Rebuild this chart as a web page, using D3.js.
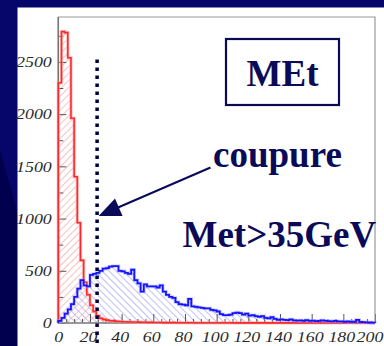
<!DOCTYPE html>
<html><head><meta charset="utf-8">
<script src="https://cdn.jsdelivr.net/npm/d3@7"></script>
<style>html,body{margin:0;padding:0;background:#06066a;overflow:hidden}</style>
</head><body><svg id="c" width="384" height="346"></svg>
<script>
const binWidth = 2;
const redCounts = [
 2300,2790,2780,2540,1960,1400,960,600,390,270,
 170,110,70,45,35,28,22,20,16,14,
 12,12,10,9,9,8,7,7,6,6,
 5,5,5,4,4,4,4,3,3,3,
 3,3,3,2,2,2,2,2,2,2,
 2,2,2,2,2,1,1,1,1,1,
 1,1,1,1,1,1,1,1,1,1,
 1,1,1,1,1,1,0,1,0,1,
 0,0,1,0,0,0,0,0,0,0,
 0,0,0,0,0,0,0,0,0,0];
const blueCounts = [
 20,50,90,130,180,250,330,410,360,350,
 460,470,480,500,520,525,540,545,545,500,
 495,480,470,510,410,380,300,370,350,350,
 350,340,360,300,270,250,240,200,180,175,
 170,230,160,155,150,145,140,140,125,120,
 110,85,75,75,80,95,100,95,80,90,
 70,75,65,60,65,50,45,55,40,30,
 35,30,28,35,25,22,25,20,28,20,
 22,18,20,25,20,18,15,20,15,15,
 12,15,10,12,30,10,8,6,5,3];
const xTicks = [0,20,40,60,80,100,120,140,160,180,200];
const yTicks = [0,500,1000,1500,2000,2500];
const cutValue = 24.5;
const labelTitle = "MEt";
const labelArrow = "coupure";
const labelCut = "Met>35GeV";

const svg = d3.select("#c");
const defs = svg.append("defs");
svg.append("rect").attr("width",384).attr("height",346).attr("fill","#06066a");
svg.append("path").attr("d","M0,150 L17.5,213 L17.5,346 L0,346Z").attr("fill","#00004e");
svg.append("rect").attr("x",17.5).attr("y",7.5).attr("width",370).attr("height",345).attr("fill","#fff");

function hatch(id,color,angle){
  const p = defs.append("pattern").attr("id",id).attr("width",5).attr("height",5)
    .attr("patternUnits","userSpaceOnUse").attr("patternTransform",`rotate(${angle})`);
  p.append("line").attr("x1",0).attr("y1",0).attr("x2",0).attr("y2",5)
    .attr("stroke",color).attr("stroke-width",1.3);
}
hatch("hr","#f4a0a0",45);
hatch("hb","#a0a0f0",-45);

const x = d3.scaleLinear().domain([0,200]).range([58.3,375]);
const y = d3.scaleLinear().domain([0,2930]).range([323,17]);

function pts(arr){
  const p = [[0,0]];
  arr.forEach((v,i)=>p.push([i*binWidth,v]));
  p.push([arr.length*binWidth, arr[arr.length-1]]);
  p.push([arr.length*binWidth, 0]);
  return p;
}
const line = d3.line().x(d=>x(d[0])).y(d=>y(d[1])).curve(d3.curveStepAfter);
const area = d3.area().x(d=>x(d[0])).y0(y(0)).y1(d=>y(d[1])).curve(d3.curveStepAfter);

const rp = pts(redCounts), bp = pts(blueCounts);
svg.append("path").attr("d",area(rp)).attr("fill","url(#hr)");
svg.append("path").attr("d",area(bp)).attr("fill","url(#hb)");

const tickCol = "#555";
const gx = svg.append("g").attr("transform",`translate(0,${y(0)})`);
gx.call(d3.axisBottom(x).tickValues(d3.range(0,201,5).filter(v=>v%20!==0)).tickSizeInner(-4).tickSizeOuter(0).tickFormat(""));
const gx2 = svg.append("g").attr("transform",`translate(0,${y(0)})`);
gx2.call(d3.axisBottom(x).tickValues(xTicks).tickSizeInner(-9).tickSizeOuter(0).tickPadding(0).tickFormat(d3.format("d")));
const gy = svg.append("g").attr("transform",`translate(${x(0)},0)`);
gy.call(d3.axisLeft(y).tickValues(d3.range(250,2930,500)).tickSizeInner(-5).tickSizeOuter(0).tickFormat(""));
const gy2 = svg.append("g").attr("transform",`translate(${x(0)},0)`);
gy2.call(d3.axisLeft(y).tickValues(yTicks).tickSizeInner(-8).tickSizeOuter(0).tickPadding(6.5).tickFormat(d3.format("d")));
[gx,gx2,gy,gy2].forEach(g=>{g.select(".domain").remove();g.selectAll("line").attr("stroke",tickCol).attr("stroke-width",1);});
[gx2,gy2].forEach(g=>g.selectAll("text").attr("font-family","'Liberation Serif',serif").attr("font-style","italic")
   .attr("font-size",14).attr("fill","#2a2a2a"));
gx2.selectAll("text").attr("dy",null).attr("y",0)
  .attr("transform",d=>`translate(${d===0?0:(d===200?-5.5:-2)},18.5) scale(1.28,1)`);
gy2.selectAll("text").attr("dy","0.34em").attr("x",-6.5/1.28).attr("transform","scale(1.28,1)");

svg.append("path").attr("d",`M${x(0)},${y(0)} H${x(200)} V17 H${x(0)} Z`).attr("fill","none").attr("stroke","#999").attr("stroke-width",1.2);
svg.append("line").attr("x1",x(0)).attr("x2",x(0)).attr("y1",17).attr("y2",y(0)).attr("stroke","#777").attr("stroke-width",1.5);
svg.append("line").attr("x1",x(0)).attr("x2",x(200)).attr("y1",y(0)).attr("y2",y(0)).attr("stroke","#888").attr("stroke-width",1.5);

svg.append("path").attr("d",line(rp)).attr("fill","none").attr("stroke","#ff9a9a").attr("stroke-width",3.2).attr("opacity",0.6);
svg.append("path").attr("d",line(rp)).attr("fill","none").attr("stroke","#ff2a2a").attr("stroke-width",1.6);
svg.append("path").attr("d",line(bp)).attr("fill","none").attr("stroke","#9a9aff").attr("stroke-width",3.4).attr("opacity",0.5);
svg.append("path").attr("d",line(bp)).attr("fill","none").attr("stroke","#1414ff").attr("stroke-width",1.8);

svg.append("line").attr("x1",x(cutValue)).attr("x2",x(cutValue)).attr("y1",59.5).attr("y2",346)
  .attr("stroke","#000040").attr("stroke-width",3.5).attr("stroke-dasharray","3.5,4.5");

const navy = "#0a0a58";
svg.append("rect").attr("x",226).attr("y",39).attr("width",113).attr("height",66).attr("fill","#fff").attr("stroke",navy).attr("stroke-width",2.2);
const tf = "'Liberation Serif','Times New Roman',serif";
svg.append("text").attr("x",282.5).attr("y",86).attr("text-anchor","middle").attr("font-family",tf).attr("font-weight","bold").attr("font-size",37).attr("fill",navy).text(labelTitle);
svg.append("text").attr("x",213).attr("y",167).attr("font-family",tf).attr("font-weight","bold").attr("font-size",37).attr("fill",navy).text(labelArrow);
svg.append("text").attr("x",182.5).attr("y",246.5).attr("font-family",tf).attr("font-weight","bold").attr("font-size",37).attr("fill",navy).text(labelCut);

const s=[210.5,167.5], t=[x(cutValue)+1.5,216];
const dx=t[0]-s[0], dy=t[1]-s[1], L=Math.hypot(dx,dy), ux=dx/L, uy=dy/L;
const hl=22, hw=9.5;
const b=[t[0]-ux*hl, t[1]-uy*hl];
svg.append("line").attr("x1",s[0]).attr("y1",s[1]).attr("x2",b[0]+ux*4).attr("y2",b[1]+uy*4).attr("stroke",navy).attr("stroke-width",2.2);
svg.append("path").attr("d",`M${t[0]},${t[1]} L${b[0]-uy*hw},${b[1]+ux*hw} L${b[0]+uy*hw},${b[1]-ux*hw} Z`).attr("fill",navy);
</script></body></html>
